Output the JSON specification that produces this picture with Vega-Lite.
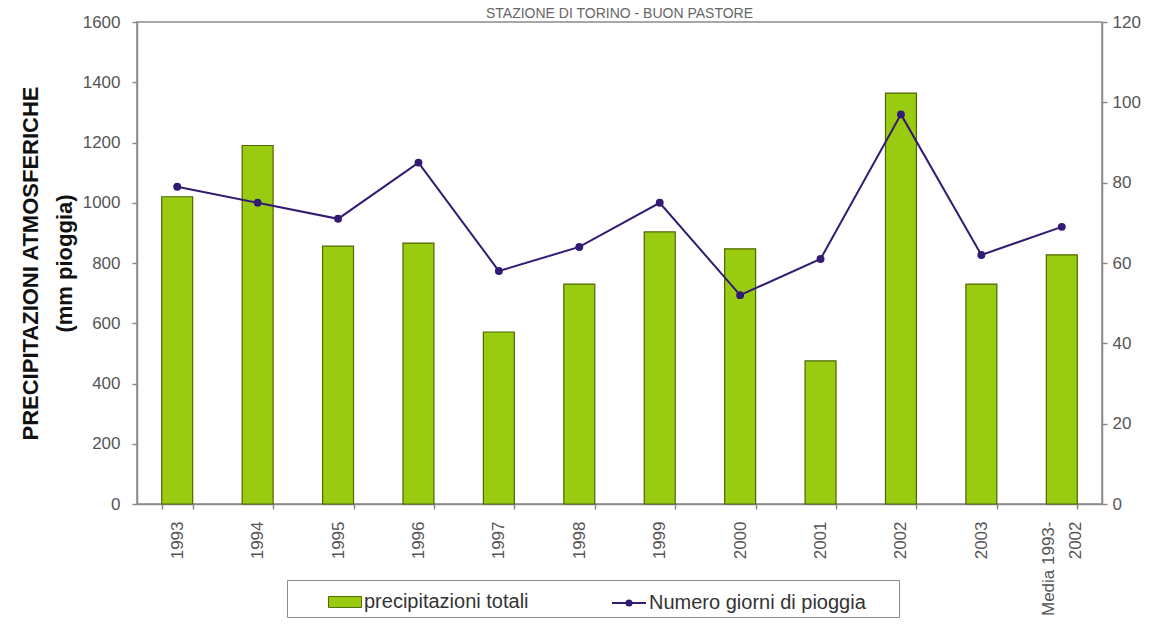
{
  "$schema": "https://vega.github.io/schema/vega-lite/v6.json",
  "width": 965,
  "height": 482,
  "autosize": {"type": "none"},
  "padding": {"left": 137, "top": 22, "right": 54, "bottom": 124},
  "background": "white",
  "title": {"text": "STAZIONE DI TORINO - BUON PASTORE", "fontSize": 14, "font": "Liberation Sans", "color": "#666", "fontWeight": "normal", "offset": 5, "dy": 13},
  "config": {
    "view": {"stroke": "#8a8a8a", "strokeWidth": 1.5},
    "font": "Liberation Sans",
    "axis": {"grid": false, "domainColor": "#8a8a8a", "domainWidth": 1.5, "tickColor": "#8a8a8a", "tickWidth": 1.5, "tickSize": 5, "labelColor": "#555", "labelFontSize": 17, "labelFont": "Liberation Sans"}
  },
  "data": {"values": [
    {"anno": "1993", "precipitazioni": 1020, "giorni": 79},
    {"anno": "1994", "precipitazioni": 1190, "giorni": 75},
    {"anno": "1995", "precipitazioni": 856, "giorni": 71},
    {"anno": "1996", "precipitazioni": 866, "giorni": 85},
    {"anno": "1997", "precipitazioni": 571, "giorni": 58},
    {"anno": "1998", "precipitazioni": 730, "giorni": 64},
    {"anno": "1999", "precipitazioni": 903, "giorni": 75},
    {"anno": "2000", "precipitazioni": 847, "giorni": 52},
    {"anno": "2001", "precipitazioni": 475, "giorni": 61},
    {"anno": "2002", "precipitazioni": 1364, "giorni": 97},
    {"anno": "2003", "precipitazioni": 730, "giorni": 62},
    {"anno": "Media 1993-2002", "precipitazioni": 827, "giorni": 69}
  ]},
  "layer": [
    {
      "mark": {"type": "bar", "stroke": "#4d6600", "strokeWidth": 1.2},
      "encoding": {
        "x": {"field": "anno", "type": "nominal", "sort": null,
          "scale": {"paddingInner": 0.615, "paddingOuter": 0.3075},
          "axis": {"title": null, "labelAngle": -90, "labelAlign": "right", "labelBaseline": "middle", "labelPadding": 12, "tickBand": "extent", "labelLineHeight": 27,
            "labelOffset": {"condition": {"test": "datum.value == 'Media 1993-2002'", "value": -13}, "value": 0},
            "labelExpr": "datum.value == 'Media 1993-2002' ? ['Media 1993-', '2002'] : datum.label"}},
        "y": {"field": "precipitazioni", "type": "quantitative",
          "scale": {"domain": [0, 1600], "nice": false},
          "axis": {"values": [0, 200, 400, 600, 800, 1000, 1200, 1400, 1600], "format": "d", "labelPadding": 12,
            "title": ["PRECIPITAZIONI ATMOSFERICHE", "(mm pioggia)"], "titleFontSize": 22, "titleFontWeight": "bold", "titleColor": "#111", "titleLineHeight": 34, "titlePadding": 6, "titleFont": "Liberation Sans"}},
        "fill": {"datum": "precipitazioni totali", "type": "nominal",
          "scale": {"domain": ["precipitazioni totali"], "range": ["#99cc11"]},
          "legend": {"orient": "none", "legendX": 150, "legendY": 558, "direction": "horizontal",
            "title": "x", "titleColor": "white", "titleFontSize": 1, "titleOrient": "right", "titlePadding": 364,
            "strokeColor": "#8a8a8a", "padding": 5, "symbolOffset": 36,
            "labelFontSize": 20, "labelColor": "#333", "labelLimit": 1000, "labelOffset": 2,
            "symbolType": "M-1,-0.33H1V0.33H-1Z", "symbolSize": 1089, "symbolStrokeColor": "#4d6600", "symbolStrokeWidth": 1}
        }
      }
    },
    {
      "mark": {"type": "line", "strokeWidth": 2, "point": {"filled": true, "fill": "#331a73", "size": 35}},
      "encoding": {
        "x": {"field": "anno", "type": "nominal", "sort": null},
        "y": {"field": "giorni", "type": "quantitative",
          "scale": {"domain": [0, 120], "nice": false},
          "axis": {"orient": "right", "values": [0, 20, 40, 60, 80, 100, 120], "title": null, "labelPadding": 5}},
        "stroke": {"datum": "Numero giorni di pioggia", "type": "nominal",
          "scale": {"domain": ["Numero giorni di pioggia"], "range": ["#331a73"]},
          "legend": {"orient": "none", "legendX": 469, "legendY": 558, "direction": "horizontal",
            "title": null, "padding": 5, "strokeColor": null,
            "labelFontSize": 20, "labelColor": "#333", "labelLimit": 1000, "labelOffset": 2,
            "symbolType": "M-1,0H1M-0.15,0A0.15,0.15 0 1,1 0.15,0A0.15,0.15 0 1,1 -0.15,0Z", "symbolSize": 1156, "symbolStrokeWidth": 2, "symbolFillColor": "#331a73"}}
      }
    }
  ],
  "resolve": {"scale": {"y": "independent"}}
}
